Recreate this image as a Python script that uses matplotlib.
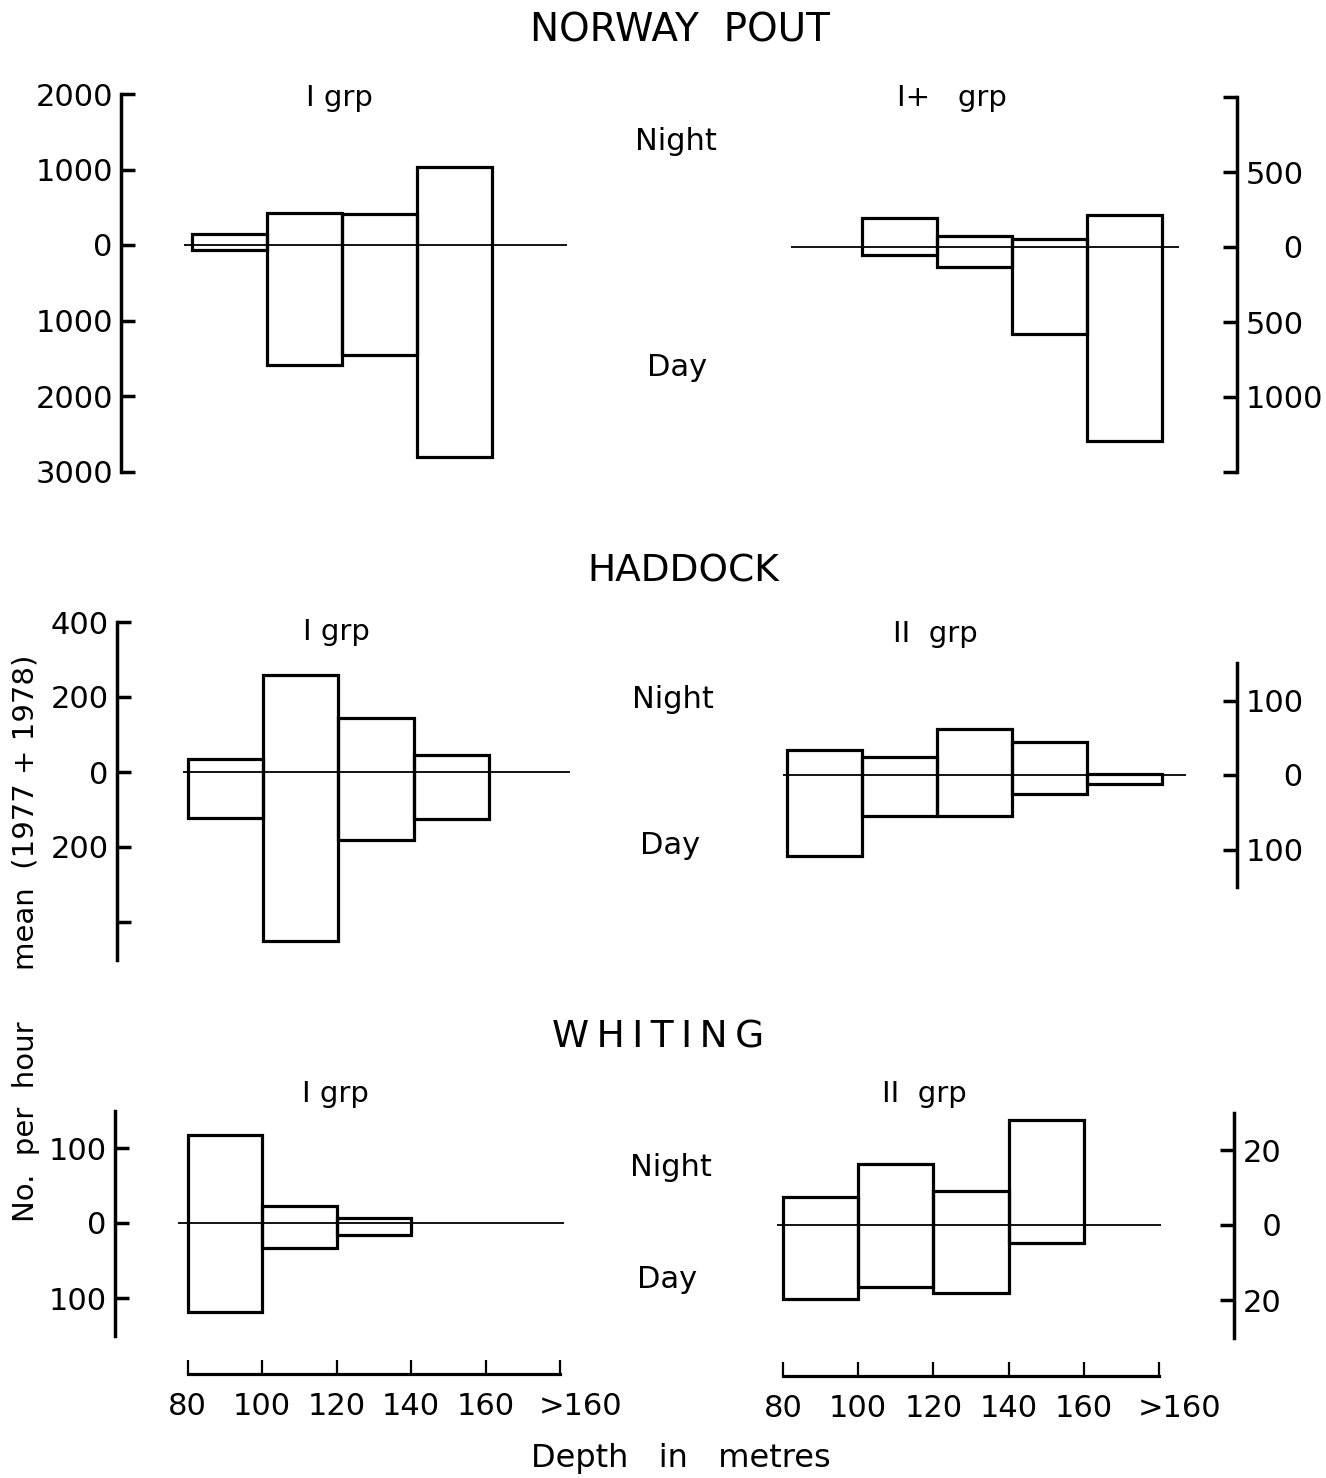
import matplotlib
matplotlib.use('Agg')
import matplotlib.pyplot as plt
import numpy as np

# Depth bins (left edge of each 20 m bin); 160 means ">160"
depth_ticks = [80, 100, 120, 140, 160, 180]
depth_labels = ['80', '100', '120', '140', '160', '']

# Norway pout, I group (night above the line, day below)
pout_i_bins = [80, 100, 120, 140]
pout_i_night = [150, 420, 415, 1030]
pout_i_day = [70, 1590, 1460, 2810]

# Norway pout, I+ group
pout_iplus_bins = [100, 120, 140, 160]
pout_iplus_night = [195, 75, 55, 215]
pout_iplus_day = [50, 130, 580, 1295]

# Haddock, I group
haddock_i_bins = [80, 100, 120, 140]
haddock_i_night = [34, 259, 143, 46]
haddock_i_day = [122, 451, 181, 125]

# Haddock, II group
haddock_ii_bins = [80, 100, 120, 140, 160]
haddock_ii_night = [34, 24, 62, 44, 1]
haddock_ii_day = [109, 55, 55, 25, 12]

# Whiting, I group
whiting_i_bins = [80, 100, 120]
whiting_i_night = [117, 23, 7]
whiting_i_day = [119, 33, 16]

# Whiting, II group
whiting_ii_bins = [80, 100, 120, 140]
whiting_ii_night = [7.4, 16.3, 9.0, 28.1]
whiting_ii_day = [19.6, 16.6, 18.1, 4.9]

W, H = 1326, 1478
dpi = 100
plt.rcParams['font.family'] = ['DejaVu Sans']

fig = plt.figure(figsize=(W / dpi, H / dpi), dpi=dpi)
fig.patch.set_facecolor('white')


def make_panel(px80, ppm, xlim, py0, ppu, ylim):
    # px80: pixel of 80 m, ppm: pixels per metre, py0: pixel of zero, ppu: pixels per unit
    x0 = px80 + (xlim[0] - 80) * ppm
    x1 = px80 + (xlim[1] - 80) * ppm
    y_top = py0 - ylim[1] * ppu
    y_bot = py0 - ylim[0] * ppu
    ax = fig.add_axes([x0 / W, 1 - y_bot / H, (x1 - x0) / W, (y_bot - y_top) / H])
    ax.set_xlim(*xlim)
    ax.set_ylim(*ylim)
    ax.patch.set_alpha(0)
    for s in ax.spines.values():
        s.set_visible(False)
    ax.set_xticks([])
    return ax


def draw_bars(ax, bins, night, day, zero_span):
    ax.hlines(0, zero_span[0], zero_span[1], color='black', lw=1.3, zorder=3)
    day = np.asarray(day, dtype=float)
    night = np.asarray(night, dtype=float)
    ax.bar(bins, night + day, bottom=-day, width=20, align='edge', fill=False,
           edgecolor='black', linewidth=2.3, zorder=2)


def y_axis(ax, side, bounds, ticks, labels):
    sp = ax.spines[side]
    sp.set_visible(True)
    sp.set_linewidth(2.5)
    sp.set_bounds(*bounds)
    if side == 'left':
        ax.yaxis.tick_left()
    else:
        ax.yaxis.tick_right()
    ax.set_yticks(ticks, labels)
    ax.tick_params(axis='y', direction='in', length=10, width=2.5, pad=6, labelsize=22)


def depth_axis(ax):
    sp = ax.spines['bottom']
    sp.set_visible(True)
    sp.set_linewidth(2.3)
    sp.set_bounds(80, 180)
    ax.set_xticks(depth_ticks, depth_labels)
    ax.set_xticks([185.5], ['>160'], minor=True)
    ax.tick_params(axis='x', which='major', direction='in', length=10, width=1.6,
                   pad=13, labelsize=22)
    ax.tick_params(axis='x', which='minor', length=0, pad=13, labelsize=22)


# Norway pout I grp
ax = make_panel(192, 3.75, (61.1, 185), 245, 0.0755, (-3000, 2000))
draw_bars(ax, pout_i_bins, pout_i_night, pout_i_day, (78, 180))
y_axis(ax, 'left', (-3000, 2000), [2000, 1000, 0, -1000, -2000, -3000],
       ['2000', '1000', '0', '1000', '2000', '3000'])

# Norway pout I+ grp
ax = make_panel(787, 3.75, (75, 200), 247, 0.15, (-1500, 1000))
draw_bars(ax, pout_iplus_bins, pout_iplus_night, pout_iplus_day, (81, 184.5))
y_axis(ax, 'right', (-1500, 1000), [1000, 500, 0, -500, -1000, -1500],
       ['', '500', '\u2007\u20070', '500', '1000', ''])

# Haddock I grp
ax = make_panel(188, 3.76, (61.1, 185), 772, 0.375, (-500, 400))
draw_bars(ax, haddock_i_bins, haddock_i_night, haddock_i_day, (78.7, 181.5))
y_axis(ax, 'left', (-500, 400), [400, 200, 0, -200, -400],
       ['400', '200', '0', '200', ''])

# Haddock II grp
ax = make_panel(787, 3.75, (75, 200), 775, 0.745, (-150, 150))
draw_bars(ax, haddock_ii_bins, haddock_ii_night, haddock_ii_day, (79, 186.5))
y_axis(ax, 'right', (-150, 150), [100, 0, -100], ['100', '\u2007\u20070', '100'])

# Whiting I grp (with depth axis at the bottom)
ax = make_panel(188, 3.74, (60.5, 185), 1223, 0.75, (-201.3, 150))
draw_bars(ax, whiting_i_bins, whiting_i_night, whiting_i_day, (77.3, 181))
y_axis(ax, 'left', (-150, 150), [100, 0, -100], ['100', '0', '100'])
depth_axis(ax)

# Whiting II grp
ax = make_panel(783, 3.76, (75, 200), 1225, 3.75, (-40.3, 30))
draw_bars(ax, whiting_ii_bins, whiting_ii_night, whiting_ii_day, (78.5, 180.5))
y_axis(ax, 'right', (-30, 30), [20, 0, -20], ['20', '\u20070', '20'])
depth_axis(ax)


def label(x, y, s, size, **kw):
    fig.text(x / W, 1 - y / H, s, ha='center', va='center', fontsize=size, **kw)


label(680, 31, 'NORWAY  POUT', 28)
label(683, 572, 'HADDOCK', 27)
label(658, 1037, 'W\u2009H\u2009I\u2009T\u2009I\u2009N\u2009G', 27)

label(339, 98, 'I grp', 21)
label(952, 98, 'I+   grp', 21)
label(336, 632, 'I grp', 21)
label(935, 634, 'II  grp', 21)
label(335, 1094, 'I grp', 21)
label(924, 1094, 'II  grp', 21)

label(676, 141, 'Night', 22)
label(677, 368, 'Day', 22)
label(673, 700, 'Night', 22)
label(670, 846, 'Day', 22)
label(671, 1167, 'Night', 22)
label(667, 1279, 'Day', 22)

label(26, 812, 'mean  (1977 + 1978)', 21, rotation=90)
label(26, 1122, 'No.  per  hour', 21, rotation=90)
label(681, 1458, 'Depth   in   metres', 23)

fig.savefig('out.png', dpi=dpi)
